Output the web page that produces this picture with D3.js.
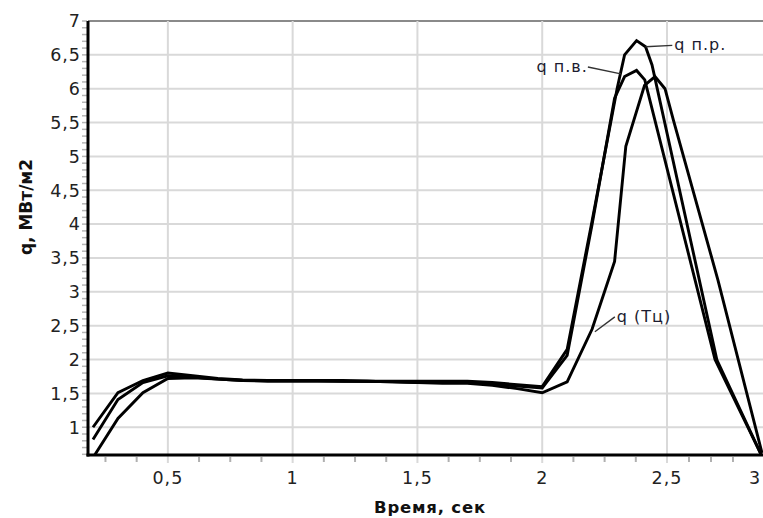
<!DOCTYPE html>
<html>
<head>
<meta charset="utf-8">
<script src="https://cdn.jsdelivr.net/npm/d3@7"></script>
<style>
  html, body { margin: 0; padding: 0; background: #fff; }
  svg { display: block; }
  text { font-family: "DejaVu Sans", Verdana, sans-serif; }
</style>
</head>
<body>
<svg id="chart" width="763" height="518"></svg>
<script>
// ---- data ----
const xTicks = [0.5, 1, 1.5, 2, 2.5, 3];
const xTickLabels = ["0,5", "1", "1,5", "2", "2,5", "3"];
const yTicks = [1, 1.5, 2, 2.5, 3, 3.5, 4, 4.5, 5, 5.5, 6, 6.5, 7];
const yTickLabels = ["1", "1,5", "2", "2,5", "3", "3,5", "4", "4,5", "5", "5,5", "6", "6,5", "7"];

const tPR = [0.2,0.3,0.4,0.5,0.6,0.7,0.8,0.9,1.0,1.1,1.2,1.3,1.4,1.5,1.6,1.7,1.8,1.9,2.0,2.1,2.2,2.3,2.33,2.378,2.414,2.44,2.784,3.04];
const qPR = [1.00,1.51,1.69,1.80,1.76,1.72,1.70,1.69,1.69,1.69,1.69,1.68,1.68,1.68,1.68,1.68,1.66,1.63,1.60,2.15,4.05,6.00,6.50,6.71,6.62,6.35,1.99,0.57];

const tPV = [0.2,0.3,0.4,0.5,0.6,0.7,0.8,0.9,1.0,1.1,1.2,1.3,1.4,1.5,1.6,1.7,1.8,1.9,2.0,2.1,2.2,2.29,2.33,2.378,2.411,2.773,3.04];
const qPV = [0.82,1.41,1.66,1.76,1.74,1.71,1.69,1.69,1.69,1.69,1.68,1.68,1.67,1.66,1.66,1.66,1.64,1.61,1.58,2.06,4.00,5.86,6.18,6.27,6.13,2.00,0.57];

const tTc = [0.2,0.3,0.4,0.5,0.6,0.7,0.8,0.9,1.0,1.1,1.2,1.3,1.4,1.5,1.6,1.7,1.8,1.9,2.0,2.1,2.2,2.29,2.335,2.41,2.452,2.492,2.536,2.79,3.04];
const qTc = [0.55,1.13,1.51,1.72,1.73,1.71,1.69,1.68,1.68,1.68,1.68,1.68,1.67,1.66,1.65,1.65,1.62,1.57,1.51,1.67,2.45,3.45,5.15,6.05,6.18,6.00,5.54,3.17,0.62];

const seriesNames = ["q п.р.", "q п.в.", "q (Тц)"];
// annotation leader: curve point (t,q) -> label point (t,q)
const annotations = [
  { text: "q п.р.", from: [2.414, 6.62], to: [2.53, 6.64], anchor: "start" },
  { text: "q п.в.", from: [2.315, 6.22], to: [2.183, 6.32], anchor: "end" },
  { text: "q (Тц)", from: [2.211, 2.41], to: [2.291, 2.63], anchor: "start" }
];

// ---- layout ----
const svg = d3.select("#chart");
const W = 763, H = 518;
const mLeft = 88, mTop = 21, mBottom = 455, mRight = 762;

const x = d3.scaleLinear().domain([0.18, 2.5, 3.04]).range([mLeft, 667, mRight]);
const y = d3.scaleLinear().domain([0.59, 7]).range([mBottom, mTop]);

svg.append("rect").attr("width", W).attr("height", H).attr("fill", "#fff");

// gridlines
svg.append("g").selectAll("line").data(yTicks.filter(v => v < 7)).join("line")
  .attr("x1", mLeft).attr("x2", W)
  .attr("y1", d => y(d)).attr("y2", d => y(d))
  .attr("stroke", "#d9d9d9").attr("stroke-width", 2);
svg.append("line").attr("x1", mLeft).attr("x2", W).attr("y1", y(7)).attr("y2", y(7))
  .attr("stroke", "#8a8a8a").attr("stroke-width", 2);
svg.append("g").selectAll("line").data(xTicks.filter(v => v < 3)).join("line")
  .attr("x1", d => x(d)).attr("x2", d => x(d))
  .attr("y1", mTop).attr("y2", mBottom + 8)
  .attr("stroke", "#d9d9d9").attr("stroke-width", 2);

// minor ticks
const xMinor = d3.range(0.25, 3.01, 0.125).filter(v => Math.abs(v * 2 - Math.round(v * 2)) > 1e-6);
svg.append("g").selectAll("line").data(xMinor).join("line")
  .attr("x1", d => x(d)).attr("x2", d => x(d))
  .attr("y1", mBottom + 2).attr("y2", mBottom + 7)
  .attr("stroke", "#b0b0b0").attr("stroke-width", 2);
const yMinor = d3.range(6, 71).map(v => v / 10);
svg.append("g").selectAll("line").data(yMinor).join("line")
  .attr("x1", mLeft - 6).attr("x2", mLeft - 1)
  .attr("y1", d => y(d)).attr("y2", d => y(d))
  .attr("stroke", "#b5b5b5").attr("stroke-width", 1.5);

// tick labels
svg.append("g").selectAll("text").data(yTicks).join("text")
  .attr("x", 81).attr("y", d => y(d)).attr("dy", "0.36em")
  .attr("text-anchor", "end").attr("font-size", 17.5).attr("letter-spacing", 1)
  .attr("fill", "#222")
  .text((d, i) => yTickLabels[i]);
svg.append("g").selectAll("text").data(xTicks).join("text")
  .attr("x", d => x(d)).attr("y", 484)
  .attr("text-anchor", "middle").attr("font-size", 17.5).attr("letter-spacing", 1)
  .attr("fill", "#222")
  .text((d, i) => xTickLabels[i]);

// axis titles
svg.append("text").attr("transform", "translate(32,207) rotate(-90)")
  .attr("text-anchor", "middle").attr("font-size", 17).attr("font-weight", "bold")
  .attr("fill", "#111").text("q, МВт/м2");
svg.append("text").attr("x", 430).attr("y", 513)
  .attr("text-anchor", "middle").attr("font-size", 16.5).attr("font-weight", "bold")
  .attr("letter-spacing", 0.8).attr("fill", "#111").text("Время, сек");

// clip for curves
svg.append("clipPath").attr("id", "plotclip").append("rect")
  .attr("x", mLeft).attr("y", mTop - 5).attr("width", W - mLeft).attr("height", mBottom - mTop + 5);

const line = d3.line().x(d => x(d[0])).y(d => y(d[1])).curve(d3.curveLinear);
const series = [
  d3.zip(tPR, qPR),
  d3.zip(tPV, qPV),
  d3.zip(tTc, qTc)
];
svg.append("g").attr("clip-path", "url(#plotclip)")
  .selectAll("path").data(series).join("path")
  .attr("d", line).attr("fill", "none")
  .attr("stroke", "#000").attr("stroke-width", 2.9)
  .attr("stroke-linejoin", "miter");

// axes lines
svg.append("line").attr("x1", mLeft).attr("x2", mLeft).attr("y1", mTop).attr("y2", mBottom + 1.5)
  .attr("stroke", "#000").attr("stroke-width", 3);
svg.append("line").attr("x1", mLeft - 1.5).attr("x2", W).attr("y1", mBottom).attr("y2", mBottom)
  .attr("stroke", "#000").attr("stroke-width", 3);

// annotations
const ann = svg.append("g");
annotations.forEach(a => {
  ann.append("line")
    .attr("x1", x(a.from[0])).attr("y1", y(a.from[1]))
    .attr("x2", x(a.to[0])).attr("y2", y(a.to[1]))
    .attr("stroke", "#333").attr("stroke-width", 1.4);
  ann.append("text")
    .attr("x", x(a.to[0]) + (a.anchor === "start" ? 2 : 0))
    .attr("y", y(a.to[1])).attr("dy", "0.3em")
    .attr("text-anchor", a.anchor)
    .attr("font-size", 16).attr("letter-spacing", 1)
    .attr("fill", "#1c1c30")
    .text(a.text);
});
</script>
</body>
</html>
